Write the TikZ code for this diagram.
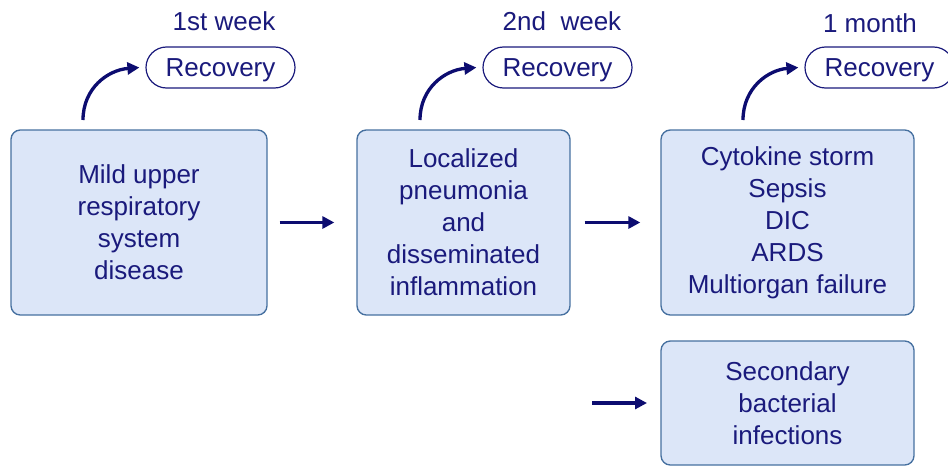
\documentclass[tikz,border=0pt]{standalone}
\usepackage{fontspec}
\setmainfont{Liberation Sans}
\usetikzlibrary{arrows.meta}
\usetikzlibrary{shapes.misc}

\definecolor{navytext}{RGB}{26,26,124}
\definecolor{navyarrow}{RGB}{12,12,112}
\definecolor{boxline}{RGB}{70,112,160}
\definecolor{boxfill}{RGB}{220,230,248}

\tikzset{
  stage/.style={draw=boxline, fill=boxfill, line width=1pt, rounded corners=7pt,
    align=center, text=navytext, inner sep=0pt},
  recov/.style={draw=navytext, fill=white, line width=0.9pt, rounded rectangle,
    minimum width=111.75pt, minimum height=30.75pt, text=navytext, inner sep=0pt,
    text height=14pt, text depth=0pt},
  period/.style={text=navytext, inner sep=0pt},
  flow/.style={draw=navyarrow, line width=2.5pt, -{Triangle[length=9pt,width=9pt]}},
}

\begin{document}
\begin{tikzpicture}[x=0.75pt,y=0.75pt,yscale=-1,xscale=1]
\fontsize{19.5}{24}\selectfont
\useasboundingbox (0,0) rectangle (948,467);

% Stages
\node[stage, minimum width=192pt, minimum height=138.75pt] (mild) at (139,222.5) {Mild upper\\respiratory\\system\\disease};
\node[stage, minimum width=159.75pt, minimum height=138.75pt] (pneu) at (463.5,222.5) {Localized\\pneumonia\\and\\disseminated\\inflammation};
\node[stage, minimum width=189.75pt, minimum height=138.75pt] (storm) at (787.5,222.5) {Cytokine storm\\Sepsis\\DIC\\ARDS\\Multiorgan failure};
\node[stage, minimum width=189.75pt, minimum height=93pt] (second) at (787.5,403) {Secondary\\bacterial\\infections};

% Recovery
\node[recov] (rec1) at (220.5,67.5) {Recovery};
\node[recov] (rec2) at (557.5,67.5) {Recovery};
\node[recov] (rec3) at (879.5,67.5) {Recovery};

% Periods
\node[period] (wk1) at (224,21) {1st week};
\node[period] (wk2) at (562,21) {2nd\ \ week};
\node[period] (mon) at (870,23) {1 month};

% Curved arrows
\coordinate (up1) at (83,120);
\coordinate (up2) at (420,120);
\coordinate (up3) at (743,120);
\draw[flow] (up1) .. controls (83,88) and (108,70) .. ([xshift=-4.5pt]rec1.west);
\draw[flow] (up2) .. controls (420,88) and (445,70) .. ([xshift=-4.5pt]rec2.west);
\draw[flow] (up3) .. controls (743,88) and (768,70) .. ([xshift=-4.5pt]rec3.west);

% Straight arrows
\coordinate (in4) at (592,403);
\draw[flow, shorten <=9pt, shorten >=16.5pt] (mild.east) -- (pneu.west);
\draw[flow, shorten <=10.5pt, shorten >=15pt] (pneu.east) -- (storm.west);
\draw[flow, shorten >=10pt] (in4) -- (second.west);

\end{tikzpicture}
\end{document}
